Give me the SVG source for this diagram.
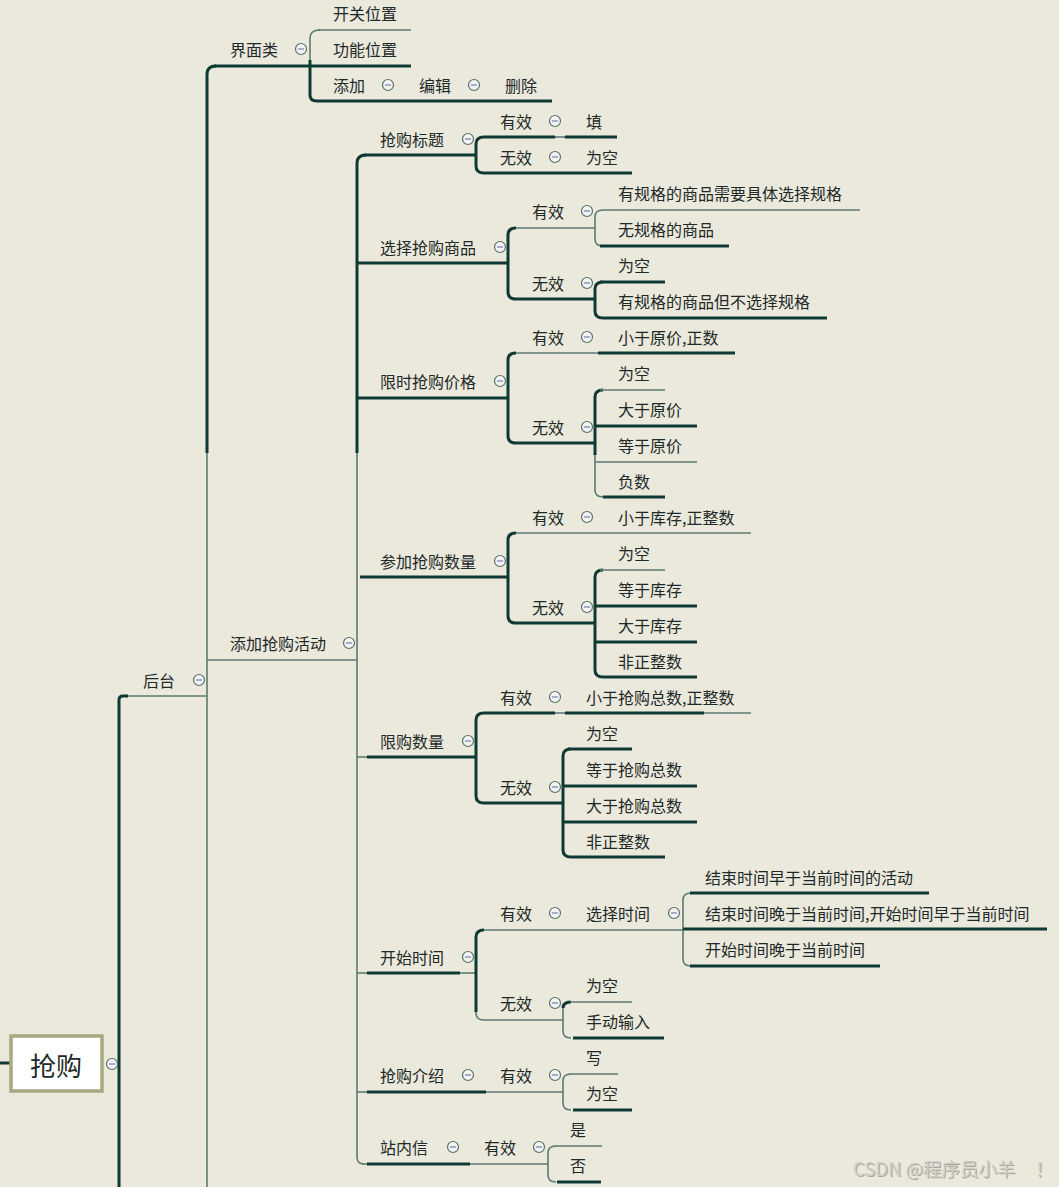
<svg xmlns="http://www.w3.org/2000/svg" xmlns:xlink="http://www.w3.org/1999/xlink" width="1059" height="1187" viewBox="0 0 1059 1187">
<style>
.k{stroke:#0f3a34;stroke-width:3;fill:none;stroke-linecap:butt}
.t{stroke:#5d7a72;stroke-width:1.6;fill:none}
text{font-family:"Noto Sans CJK SC","Noto Sans",sans-serif;font-size:16px;fill:#1d2a28;dominant-baseline:central}
.root{font-size:26px;text-anchor:middle}
.wm{font-size:18.5px;fill:#d0cec4}
.wms{font-size:18.5px;fill:#a9a79e}
.cc{fill:#f3f3ef;stroke:#5a716c;stroke-width:1.2}
.cm{stroke:#7f86c4;stroke-width:1.3}
</style>
<defs>
<g id="col"><circle class="cc" r="5.5"/><line class="cm" x1="-3" y1="0" x2="3" y2="0"/></g>
</defs>
<rect width="1059" height="1187" fill="#ebe8dc"/>
<g id="connectors">
<path class="k" d="M0 1063H11"/>
<path class="k" d="M128 696H123Q119 696 119 700V1187"/>
<path class="t" d="M128 696H207"/>
<path class="k" d="M216 66Q207 66 207 74V453"/>
<path class="t" d="M207 453V1187"/>
<path class="k" d="M214 66H411"/>
<path class="t" d="M207 660H357"/>
<path class="t" d="M320 30Q310 30 310 38V62"/>
<path class="k" d="M310 60V95Q310 101 317 101H552"/>
<path class="t" d="M318 30H411"/>
<path class="k" d="M366 155Q357 155 357 163V453"/>
<path class="t" d="M357 453V1157Q357 1164 364 1164"/>
<path class="k" d="M364 155H476"/>
<path class="k" d="M357 263H508"/>
<path class="k" d="M357 398H508"/>
<path class="k" d="M360 577H508"/>
<path class="t" d="M357 757H367"/><path class="k" d="M367 757H476"/>
<path class="t" d="M357 973H367"/><path class="k" d="M367 973H460"/><path class="t" d="M460 973H476"/>
<path class="t" d="M357 1092H367"/><path class="k" d="M367 1092H486"/><path class="t" d="M486 1092H563"/>
<path class="t" d="M362 1164H367"/><path class="k" d="M367 1164H470"/><path class="t" d="M470 1164H548"/>
<path class="k" d="M484 137Q476 137 476 144V166Q476 173 484 173H632"/>
<path class="k" d="M484 137H555"/><path class="t" d="M555 137H565"/><path class="k" d="M565 137H617"/>
<path class="k" d="M516 228Q508 228 508 235V292Q508 299 516 299H595"/>
<path class="t" d="M516 228H595"/>
<path class="t" d="M603 210Q595 210 595 217V239Q595 246 603 246"/>
<path class="t" d="M603 210H860"/>
<path class="k" d="M600 246H729"/>
<path class="k" d="M603 282Q595 282 595 289V311Q595 318 603 318H827"/>
<path class="k" d="M600 282H665"/>
<path class="k" d="M516 353Q508 353 508 360V436Q508 443 516 443H595"/>
<path class="t" d="M516 353H598"/><path class="k" d="M598 353H735"/>
<path class="k" d="M603 390Q595 390 595 397V455"/>
<path class="t" d="M595 455V490Q595 497 603 497"/>
<path class="t" d="M600 390H665"/>
<path class="k" d="M595 426H697"/>
<path class="t" d="M595 462H697"/>
<path class="k" d="M603 497H665"/>
<path class="k" d="M516 533Q508 533 508 540V616Q508 623 516 623H595"/>
<path class="t" d="M516 533H751"/>
<path class="k" d="M603 570Q595 570 595 577V670Q595 677 603 677H697"/>
<path class="t" d="M600 570H665"/>
<path class="k" d="M595 606H697"/>
<path class="k" d="M595 642H697"/>
<path class="k" d="M484 713Q476 713 476 720V796Q476 803 484 803H563"/>
<path class="k" d="M484 713H555"/><path class="t" d="M555 713H565"/><path class="k" d="M565 713H704"/><path class="t" d="M704 713H751"/>
<path class="k" d="M571 749Q563 749 563 756V850Q563 857 571 857H665"/>
<path class="k" d="M568 749H632"/>
<path class="k" d="M563 786H697"/>
<path class="k" d="M563 822H697"/>
<path class="k" d="M484 930Q476 930 476 937V1012"/>
<path class="t" d="M476 1012V1013Q476 1020 484 1020H563"/>
<path class="t" d="M484 930H683"/>
<path class="t" d="M691 893Q683 893 683 900V959Q683 966 691 966"/>
<path class="k" d="M690 893H929"/>
<path class="k" d="M683 929H1047"/>
<path class="k" d="M690 966H880"/>
<path class="k" d="M571 1002Q563 1002 563 1008"/>
<path class="t" d="M563 1008V1031Q563 1038 571 1038"/>
<path class="t" d="M570 1002H632"/>
<path class="k" d="M573 1038H664"/>
<path class="t" d="M571 1074Q563 1074 563 1081V1103Q563 1110 571 1110"/>
<path class="t" d="M570 1074H618"/>
<path class="k" d="M573 1110H632"/>
<path class="t" d="M556 1146Q548 1146 548 1153V1175Q548 1182 556 1182"/>
<path class="t" d="M555 1146H602"/>
<path class="k" d="M557 1182H601"/>
</g>
<g id="root"><rect x="11" y="1036" width="91" height="55" fill="#ffffff" stroke="#a9a682" stroke-width="3.5"/><text class="root" x="56" y="1064">抢购</text><use xlink:href="#col" x="112" y="1064"/></g>
<g id="n-houtai"><text x="143" y="680">后台</text><use xlink:href="#col" x="199" y="680"/></g>
<g id="n-jiemian"><text x="230" y="49">界面类</text><use xlink:href="#col" x="301" y="49"/></g>
<g id="n-kaiguan"><text x="333" y="13">开关位置</text></g>
<g id="n-gongneng"><text x="333" y="49">功能位置</text></g>
<g id="n-tianjia"><text x="333" y="85">添加</text><use xlink:href="#col" x="388" y="85"/></g>
<g id="n-bianji"><text x="419" y="85">编辑</text><use xlink:href="#col" x="474" y="85"/></g>
<g id="n-shanchu"><text x="505" y="85">删除</text></g>
<g id="n-huodong"><text x="230" y="643">添加抢购活动</text><use xlink:href="#col" x="349" y="643"/></g>
<g id="n-biaoti"><text x="380" y="139">抢购标题</text><use xlink:href="#col" x="468" y="139"/></g>
<g id="n-bt-yx"><text x="500" y="121">有效</text><use xlink:href="#col" x="555" y="121"/></g>
<g id="n-bt-tian"><text x="586" y="121">填</text></g>
<g id="n-bt-wx"><text x="500" y="157">无效</text><use xlink:href="#col" x="555" y="157"/></g>
<g id="n-bt-wk"><text x="586" y="157">为空</text></g>
<g id="n-shangpin"><text x="380" y="247">选择抢购商品</text><use xlink:href="#col" x="500" y="247"/></g>
<g id="n-sp-yx"><text x="532" y="211">有效</text><use xlink:href="#col" x="587" y="211"/></g>
<g id="n-sp-1"><text x="618" y="193">有规格的商品需要具体选择规格</text></g>
<g id="n-sp-2"><text x="618" y="229">无规格的商品</text></g>
<g id="n-sp-wx"><text x="532" y="283">无效</text><use xlink:href="#col" x="587" y="283"/></g>
<g id="n-sp-3"><text x="618" y="265">为空</text></g>
<g id="n-sp-4"><text x="618" y="301">有规格的商品但不选择规格</text></g>
<g id="n-jiage"><text x="380" y="381">限时抢购价格</text><use xlink:href="#col" x="500" y="381"/></g>
<g id="n-jg-yx"><text x="532" y="337">有效</text><use xlink:href="#col" x="587" y="337"/></g>
<g id="n-jg-1"><text x="618" y="337">小于原价,正数</text></g>
<g id="n-jg-wx"><text x="532" y="427">无效</text><use xlink:href="#col" x="587" y="427"/></g>
<g id="n-jg-2"><text x="618" y="373">为空</text></g>
<g id="n-jg-3"><text x="618" y="409">大于原价</text></g>
<g id="n-jg-4"><text x="618" y="445">等于原价</text></g>
<g id="n-jg-5"><text x="618" y="481">负数</text></g>
<g id="n-shuliang"><text x="380" y="561">参加抢购数量</text><use xlink:href="#col" x="500" y="561"/></g>
<g id="n-sl-yx"><text x="532" y="517">有效</text><use xlink:href="#col" x="587" y="517"/></g>
<g id="n-sl-1"><text x="618" y="517">小于库存,正整数</text></g>
<g id="n-sl-wx"><text x="532" y="607">无效</text><use xlink:href="#col" x="587" y="607"/></g>
<g id="n-sl-2"><text x="618" y="553">为空</text></g>
<g id="n-sl-3"><text x="618" y="589">等于库存</text></g>
<g id="n-sl-4"><text x="618" y="625">大于库存</text></g>
<g id="n-sl-5"><text x="618" y="661">非正整数</text></g>
<g id="n-xiangou"><text x="380" y="741">限购数量</text><use xlink:href="#col" x="468" y="741"/></g>
<g id="n-xg-yx"><text x="500" y="697">有效</text><use xlink:href="#col" x="555" y="697"/></g>
<g id="n-xg-1"><text x="586" y="697">小于抢购总数,正整数</text></g>
<g id="n-xg-wx"><text x="500" y="787">无效</text><use xlink:href="#col" x="555" y="787"/></g>
<g id="n-xg-2"><text x="586" y="733">为空</text></g>
<g id="n-xg-3"><text x="586" y="769">等于抢购总数</text></g>
<g id="n-xg-4"><text x="586" y="805">大于抢购总数</text></g>
<g id="n-xg-5"><text x="586" y="841">非正整数</text></g>
<g id="n-kaishi"><text x="380" y="957">开始时间</text><use xlink:href="#col" x="468" y="957"/></g>
<g id="n-ks-yx"><text x="500" y="913">有效</text><use xlink:href="#col" x="555" y="913"/></g>
<g id="n-ks-xz"><text x="586" y="913">选择时间</text><use xlink:href="#col" x="674" y="913"/></g>
<g id="n-ks-1"><text x="705" y="877">结束时间早于当前时间的活动</text></g>
<g id="n-ks-2"><text x="705" y="913">结束时间晚于当前时间,开始时间早于当前时间</text></g>
<g id="n-ks-3"><text x="705" y="949">开始时间晚于当前时间</text></g>
<g id="n-ks-wx"><text x="500" y="1003">无效</text><use xlink:href="#col" x="555" y="1003"/></g>
<g id="n-ks-4"><text x="586" y="985">为空</text></g>
<g id="n-ks-5"><text x="586" y="1021">手动输入</text></g>
<g id="n-jieshao"><text x="380" y="1075">抢购介绍</text><use xlink:href="#col" x="468" y="1075"/></g>
<g id="n-js-yx"><text x="500" y="1075">有效</text><use xlink:href="#col" x="555" y="1075"/></g>
<g id="n-js-1"><text x="586" y="1057">写</text></g>
<g id="n-js-2"><text x="586" y="1093">为空</text></g>
<g id="n-zhannei"><text x="380" y="1147">站内信</text><use xlink:href="#col" x="453" y="1147"/></g>
<g id="n-zn-yx"><text x="484" y="1147">有效</text><use xlink:href="#col" x="539" y="1147"/></g>
<g id="n-zn-1"><text x="570" y="1129">是</text></g>
<g id="n-zn-2"><text x="570" y="1165">否</text></g>
<g id="watermark"><text class="wms" x="854" y="1169">CSDN @程序员小羊<tspan x="1036">！</tspan></text><text class="wm" x="853" y="1168">CSDN @程序员小羊<tspan x="1035">！</tspan></text></g>
</svg>
